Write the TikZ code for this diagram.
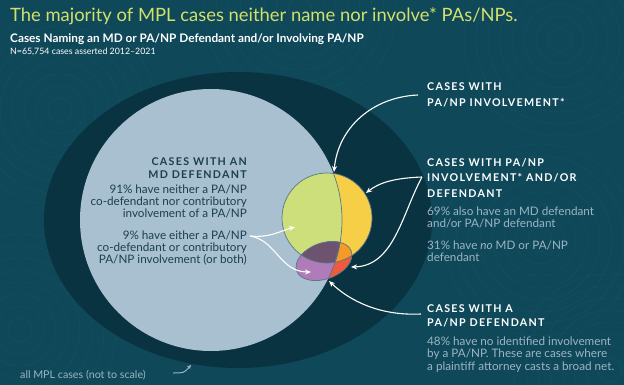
\documentclass[tikz,border=0pt]{standalone}
\usepackage{fontspec}
\setmainfont{Lato}
\newfontfamily\capsfont[LetterSpace=12]{Lato}
\usetikzlibrary{arrows.meta}

\definecolor{bgteal}{HTML}{0E4859}
\definecolor{darkring}{HTML}{0A3341}
\definecolor{mdblue}{HTML}{A8C0D0}
\definecolor{titlelime}{HTML}{D2E06C}
\definecolor{mdgreen}{HTML}{CDDF7B}
\definecolor{invyellow}{HTML}{F6CF47}
\definecolor{defpurple}{HTML}{B07BB9}
\definecolor{defmauve}{HTML}{6C5471}
\definecolor{deforange}{HTML}{F69A27}
\definecolor{defred}{HTML}{EE5A3B}
\definecolor{slatetext}{HTML}{1D3F4F}
\definecolor{greytext}{HTML}{9CB5C4}
\definecolor{edgeline}{HTML}{56788A}

\tikzset{
  arr/.style={white, line width=1.1pt, -{Stealth[length=6pt,width=5pt]}},
  oval/.style={rotate around={20:(324,261)}},
  swirl/.style={white, opacity=0.04, line width=0.5pt},
  headtext/.style={font=\capsfont\bfseries\fontsize{10.7}{#1}\selectfont, inner sep=0pt},
  bodytext/.style={font=\fontsize{11.7}{#1}\selectfont, inner sep=0pt}
}

\newcommand\mdcircle{(211,220) circle [radius=131]}
\newcommand\pacircle{(327,218) circle [radius=45]}
\newcommand\paoval{(324,261) ellipse [x radius=29, y radius=18]}

\begin{document}
\begin{tikzpicture}[x=1pt, y=-1pt]
    % background and texture
    \fill[bgteal] (0,0) rectangle (624,385);
    \useasboundingbox (0,0) rectangle (624,385);
    \begin{scope}
        \clip (0,0) rectangle (624,385);
        \foreach \cx/\cy in {60/110, 560/40, 20/330, 540/240, 610/370, 300/10} {
            \foreach \r in {12,24,...,96}
                \draw[swirl] (\cx,\cy) circle [radius=\r];
        }
    \end{scope}

    % all cases and MD defendant circles
    \fill[darkring] (238,220) ellipse [x radius=194, y radius=148];
    \fill[mdblue] \mdcircle;

    % PA/NP involvement circle
    \fill[invyellow] \pacircle;
    \begin{scope}
        \clip \mdcircle;
        \fill[mdgreen] \pacircle;
    \end{scope}

    % PA/NP defendant oval
    \fill[defred, oval] \paoval;
    \begin{scope}
        \clip[oval] \paoval;
        \fill[deforange] \pacircle;
        \fill[defpurple] \mdcircle;
        \clip \mdcircle;
        \fill[defmauve] \pacircle;
    \end{scope}

    % outlines
    \draw[edgeline, line width=0.7pt] \pacircle;
    \draw[edgeline, line width=0.7pt, oval] \paoval;
    \begin{scope}
        \clip \pacircle;
        \draw[edgeline, line width=0.7pt] \mdcircle;
    \end{scope}
    \begin{scope}
        \clip[oval] \paoval;
        \draw[edgeline, line width=0.7pt] \mdcircle;
    \end{scope}

    % titles
    \node[anchor=base west, inner sep=0pt, text=titlelime, font=\fontsize{18.4}{18.4}\selectfont] (title) at (10,22)
        {The majority of MPL cases neither name nor involve* PAs/NPs.};
    \node[anchor=base west, inner sep=0pt, text=white, font=\bfseries\fontsize{11.8}{11.8}\selectfont] (subtitle) at (10,43)
        {Cases Naming an MD or PA/NP Defendant and/or Involving PA/NP};
    \node[anchor=base west, inner sep=0pt, text=white, font=\fontsize{8.8}{8.8}\selectfont] (ncount) at (10,55)
        {N=65,754 cases asserted 2012--2021};

    % MD defendant labels
    \node[headtext=13, text=slatetext, align=right, anchor=north east] (mdhead) at (247,157.3)
        {CASES WITH AN\\MD DEFENDANT};
    \node[bodytext=11.7, text=slatetext, align=right, anchor=north east] (mdnone) at (247,184.8)
        {91\% have neither a PA/NP\\co-defendant nor contributory\\involvement of a PA/NP};
    \node[bodytext=11.7, text=slatetext, align=right, anchor=north east] (mdsome) at (247,230.8)
        {9\% have either a PA/NP\\co-defendant or contributory\\PA/NP involvement (or both)};

    % PA/NP labels
    \node[headtext=16, text=white, align=left, anchor=north west] (invhead) at (427,82.2)
        {CASES WITH\\PA/NP INVOLVEMENT*};
    \node[headtext=15.5, text=white, align=left, anchor=north west] (bothhead) at (427,157.9)
        {CASES WITH PA/NP\\INVOLVEMENT* AND/OR\\DEFENDANT};
    \node[bodytext=12.3, text=greytext, align=left, anchor=north west] (bothmd) at (427,206.5)
        {69\% also have an MD defendant\\and/or PA/NP defendant};
    \node[bodytext=12.3, text=greytext, align=left, anchor=north west] (bothno) at (427,240.5)
        {31\% have \textit{no} MD or PA/NP\\defendant};
    \node[headtext=14, text=white, align=left, anchor=north west] (defhead) at (427,304.9)
        {CASES WITH A\\PA/NP DEFENDANT};
    \node[bodytext=12.5, text=greytext, align=left, anchor=north west] (defnet) at (427,336.5)
        {48\% have no identified involvement\\by a PA/NP. These are cases where\\a plaintiff attorney casts a broad net.};
    \node[anchor=base west, inner sep=0pt, text=greytext, font=\fontsize{10.7}{10.7}\selectfont] (allcases) at (20,378)
        {all MPL cases (not to scale)};

    % arrow ends
    \coordinate (invstart) at (418,95);
    \coordinate (invtip) at (334,172);
    \coordinate (bothstart) at (422,177);
    \coordinate (bothtipa) at (366,193);
    \coordinate (bothtipb) at (351,267);
    \coordinate (defstart) at (421,314);
    \coordinate (deftip) at (329,281);
    \coordinate (mdstart) at (250,236);
    \coordinate (mdtipa) at (295,227);
    \coordinate (mdtipb) at (311,272);
    \coordinate (allstart) at (173,373);
    \coordinate (alltip) at (191,365);

    % arrows
    \draw[arr] (invstart) .. controls (372,97) and (338,128) .. (invtip);
    \draw[arr] (bothstart) .. controls (396,178) and (380,182) .. (bothtipa);
    \draw[arr] (bothstart) .. controls (402,214) and (394,266) .. (bothtipb);
    \draw[arr] (defstart) .. controls (380,316) and (350,301) .. (deftip);
    \draw[arr] (mdstart) .. controls (270,238) and (280,231) .. (mdtipa);
    \draw[arr] (mdstart) .. controls (276,240) and (280,272) .. (mdtipb);
    \draw[greytext, line width=1pt, -{Stealth[length=4pt,width=4pt]}] (allstart) .. controls (184,373) .. (alltip);
\end{tikzpicture}
\end{document}
